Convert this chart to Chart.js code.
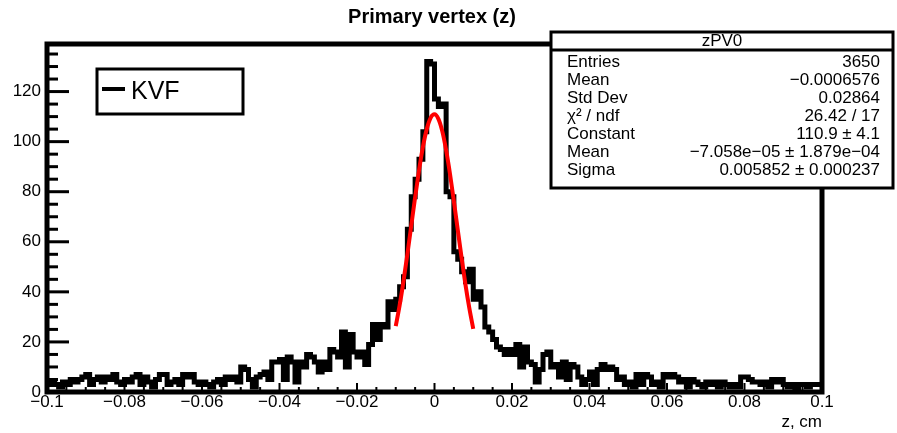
<!DOCTYPE html>
<html>
<head>
<meta charset="utf-8">
<script src="https://cdn.jsdelivr.net/npm/chart.js@4"></script>
<style>
  body { margin: 0; background: #fff; }
  canvas { display: block; }
</style>
</head>
<body>
<canvas id="myChart" width="897" height="433"></canvas>
<script>
// histogram zPV0 : 200 bins from -0.1 to 0.1 (cm)
const zMin = -0.1;
const zMax = 0.1;
const binWidth = 0.001;
const counts = [
  3, 4, 3, 2, 4, 3, 5, 4, 5, 6,
  7, 3, 5, 6, 4, 6, 5, 7, 4, 3,
  5, 4, 6, 7, 3, 6, 4, 2, 5, 7,
  7, 3, 4, 5, 3, 7, 6, 7, 4, 3,
  4, 3, 2, 4, 5, 3, 6, 5, 6, 4,
  10, 9, 5, 2, 6, 7, 8, 5, 12, 12,
  13, 5, 14, 12, 4, 12, 10, 15, 14, 12,
  8, 12, 9, 17, 16, 14, 24, 10, 23, 16,
  14, 16, 11, 19, 27, 21, 27, 26, 36, 33,
  37, 42, 46, 65, 78, 85, 93, 104, 132, 131,
  117, 114, 115, 80, 78, 56, 53, 48, 44, 49,
  37, 40, 34, 26, 24, 21, 18, 17, 15, 17,
  15, 19, 10, 18, 12, 11, 4, 9, 15, 16,
  10, 11, 6, 12, 5, 11, 10, 6, 3, 5,
  8, 3, 9, 11, 9, 10, 9, 5, 6, 3,
  4, 2, 7, 3, 7, 6, 3, 4, 2, 7,
  6, 7, 6, 4, 5, 2, 5, 4, 3, 2,
  4, 3, 4, 2, 4, 3, 2, 3, 2, 6,
  6, 5, 4, 4, 3, 4, 2, 5, 4, 5,
  3, 2, 3, 1, 3, 3, 2, 3, 3, 3
];

const fitZ = [-0.010, -0.009, -0.008, -0.007, -0.006, -0.005, -0.004, -0.003, -0.002, -0.001, 0,
  0.001, 0.002, 0.003, 0.004, 0.005, 0.006, 0.007, 0.008, 0.009, 0.010];
const fitVals = [26.3, 34.6, 44.3, 55.0, 66.4, 77.8, 88.5, 97.8, 105.0, 109.5, 110.9,
  109.1, 104.2, 96.6, 87.1, 76.2, 64.8, 53.5, 42.8, 33.4, 25.2];

const xTicks = [-0.1, -0.08, -0.06, -0.04, -0.02, 0, 0.02, 0.04, 0.06, 0.08, 0.1];
const yTicks = [0, 20, 40, 60, 80, 100, 120];
const yMax = 139;

const chartTitle = 'Primary vertex (z)';
const xTitle = 'z, cm';
const histName = 'zPV0';
const legendLabel = 'KVF';
const statsLabels = ['Entries', 'Mean', 'Std Dev', 'χ² / ndf', 'Constant', 'Mean', 'Sigma'];
const statsValues = ['3650', '−0.0006576', '0.02864', '26.42 / 17', '110.9 ± 4.1',
  '−7.058e−05 ± 1.879e−04', '0.005852 ± 0.000237'];

const FONT = '"Liberation Sans", Arial, Helvetica, sans-serif';

// histogram as step line through bin low edges, plus the last upper edge
let histPoints = counts.map((c, i) => ({ x: zMin + i * binWidth, y: c }));
histPoints.push({ x: zMax, y: counts[counts.length - 1] });
let fitPoints = fitZ.map((z, i) => ({ x: z, y: fitVals[i] }));

function fmt(v) {
  let r = Math.round(v * 1000) / 1000;
  if (r === 0) return '0';
  return String(r).replace('-', '\u2212');
}

// ROOT style frame, inner ticks, title, legend and stats box
const rootDecor = {
  id: 'rootDecor',
  afterDatasetsDraw(chart) {
    const ctx = chart.ctx;
    const a = chart.chartArea;
    const xs = chart.scales.x, ys = chart.scales.y;
    ctx.save();
    ctx.strokeStyle = '#000';

    // ticks pointing into the frame
    ctx.lineWidth = 3;
    for (let v = 0; v <= yMax; v += 5) {
      const py = ys.getPixelForValue(v);
      const len = yTicks.includes(v) ? 22 : 11;
      ctx.beginPath(); ctx.moveTo(a.left, py); ctx.lineTo(a.left + len, py); ctx.stroke();
    }
    ctx.lineWidth = 2;
    for (let k = -20; k <= 20; k++) {
      const px = xs.getPixelForValue(k * 0.005);
      const len = k % 4 === 0 ? 9 : 5;
      ctx.beginPath(); ctx.moveTo(px, a.bottom); ctx.lineTo(px, a.bottom - len); ctx.stroke();
    }

    // frame
    ctx.lineWidth = 5;
    ctx.strokeRect(a.left, a.top, a.right - a.left, a.bottom - a.top);

    // title
    ctx.fillStyle = '#000';
    ctx.font = 'bold 20px ' + FONT;
    ctx.textAlign = 'center';
    ctx.textBaseline = 'middle';
    ctx.fillText(chartTitle, 432, 17);

    // legend
    ctx.fillStyle = '#fff';
    ctx.fillRect(97, 69, 146, 45);
    ctx.lineWidth = 3;
    ctx.strokeRect(97, 69, 146, 45);
    ctx.lineWidth = 4;
    ctx.beginPath(); ctx.moveTo(102, 89); ctx.lineTo(125, 89); ctx.stroke();
    ctx.fillStyle = '#000';
    ctx.font = '25px ' + FONT;
    ctx.textAlign = 'left';
    ctx.fillText(chart.data.datasets[1].label, 131, 92);

    // stats box
    const bx = 551, by = 32, bw = 342, bh = 156;
    ctx.fillStyle = '#fff';
    ctx.fillRect(bx, by, bw, bh);
    ctx.lineWidth = 3;
    ctx.strokeRect(bx, by, bw, bh);
    ctx.beginPath(); ctx.moveTo(bx, 50); ctx.lineTo(bx + bw, 50); ctx.stroke();
    ctx.fillStyle = '#000';
    ctx.font = '17px ' + FONT;
    ctx.textAlign = 'center';
    ctx.fillText(histName, bx + bw / 2, 41);
    for (let i = 0; i < statsLabels.length; i++) {
      const ty = 62 + i * 18.1;
      ctx.textAlign = 'left';
      ctx.fillText(statsLabels[i], 567, ty);
      ctx.textAlign = 'right';
      ctx.fillText(statsValues[i], 880, ty);
    }
    ctx.restore();
  }
};

const ctx = document.getElementById('myChart').getContext('2d');
const chart = new Chart(ctx, {
  type: 'line',
  data: {
    datasets: [
      {
        label: 'gaus',
        data: fitPoints,
        borderColor: '#ff0000',
        borderWidth: 4,
        pointRadius: 0,
        fill: false,
        cubicInterpolationMode: 'monotone',
        order: 0
      },
      {
        label: legendLabel,
        data: histPoints,
        borderColor: '#000000',
        borderWidth: 5,
        pointRadius: 0,
        fill: false,
        stepped: 'before',
        order: 1
      }
    ]
  },
  options: {
    responsive: false,
    devicePixelRatio: 1,
    animation: false,
    layout: { padding: { top: 44, right: 75, left: 0, bottom: 0 } },
    plugins: {
      legend: { display: false },
      tooltip: { enabled: false },
      title: { display: false }
    },
    scales: {
      x: {
        type: 'linear',
        min: zMin,
        max: zMax,
        grid: { display: false, drawTicks: false },
        border: { display: false },
        afterBuildTicks: (s) => { s.ticks = xTicks.map(v => ({ value: v })); },
        afterFit: (s) => { s.height = 41; },
        ticks: {
          padding: 0,
          maxRotation: 0,
          autoSkip: false,
          color: '#000',
          font: { family: FONT, size: 17 },
          callback: (v) => fmt(v)
        },
        title: {
          display: true,
          text: xTitle,
          align: 'end',
          color: '#000',
          padding: { top: 0, bottom: 0 },
          font: { family: FONT, size: 17 }
        }
      },
      y: {
        min: 0,
        max: yMax,
        grid: { display: false, drawTicks: false },
        border: { display: false },
        afterBuildTicks: (s) => { s.ticks = yTicks.map(v => ({ value: v })); },
        afterFit: (s) => { s.width = 47; },
        ticks: {
          padding: 6,
          color: '#000',
          font: { family: FONT, size: 17 },
          callback: (v) => fmt(v)
        }
      }
    }
  },
  plugins: [rootDecor]
});
</script>
</body>
</html>
